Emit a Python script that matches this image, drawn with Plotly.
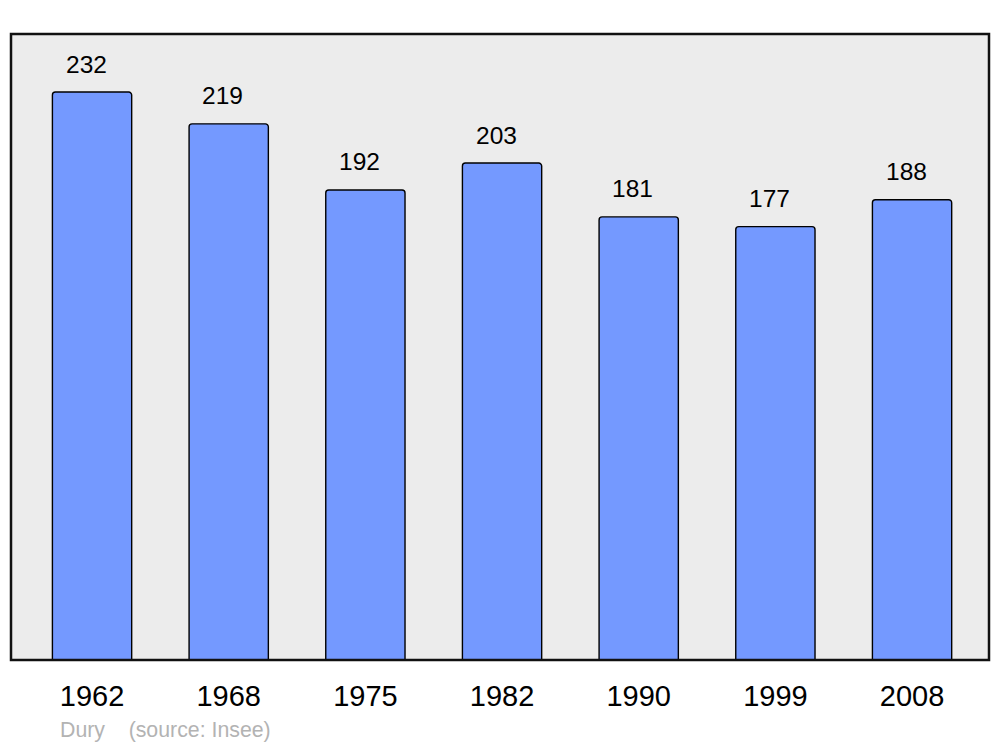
import plotly.graph_objects as go

years = ["1962", "1968", "1975", "1982", "1990", "1999", "2008"]
population = [232, 219, 192, 203, 181, 177, 188]
positions = list(range(len(years)))

fig = go.Figure()
fig.add_trace(go.Bar(
    x=positions, y=population, width=0.58,
    marker=dict(color="#7499ff", line=dict(color="#000000", width=1.4), cornerradius=3),
    hoverinfo="skip",
))

for xi, v in zip(positions, population):
    fig.add_annotation(x=xi, y=v, text=str(v), showarrow=False, yanchor="middle",
                       yshift=28, xshift=-6,
                       font=dict(family="Liberation Sans, Arial", size=24.5, color="#000"))

fig.add_annotation(xref="paper", yref="paper", x=0.0485, y=-0.1118, xanchor="left", yanchor="middle",
                   text="Dury &nbsp;&nbsp; (source: Insee)", showarrow=False,
                   font=dict(family="Liberation Sans, Arial", size=21.3, color="#b3b3b3"))

fig.add_shape(type="rect", xref="paper", yref="paper", x0=0, y0=0, x1=1, y1=1,
              line=dict(color="#111111", width=2.5), layer="above")

fig.update_layout(
    width=1000, height=747,
    margin=dict(l=11, r=11, t=34, b=87),
    paper_bgcolor="white", plot_bgcolor="#ececec",
    showlegend=False,
    xaxis=dict(range=[-0.593, 6.563], tickvals=positions, ticktext=years,
               showgrid=False, zeroline=False, ticks="outside", ticklen=10, tickcolor="rgba(0,0,0,0)",
               tickfont=dict(family="Liberation Sans, Arial", size=29, color="#000")),
    yaxis=dict(range=[0, 255.7], visible=False, showgrid=False, zeroline=False),
)

fig.write_html("out.html", config={"displayModeBar": False},
               post_script="document.body.style.margin='0';document.body.style.overflow='hidden';")
